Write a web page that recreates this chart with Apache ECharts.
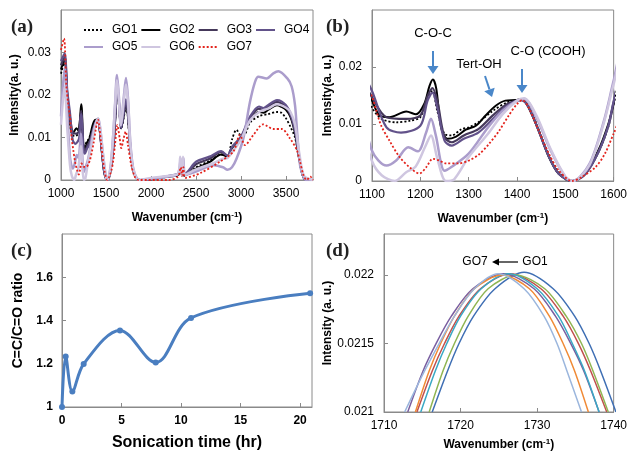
<!DOCTYPE html>
<html><head><meta charset="utf-8">
<script src="https://cdn.jsdelivr.net/npm/echarts@6/dist/echarts.min.js"></script>
<style>html,body{margin:0;padding:0;background:#fff}#c{width:630px;height:455px}</style>
</head><body><div id="c"></div>
<script>
// ---- FTIR spectra (wavenumber cm-1, intensity a.u.) ----
const go1 = [[1000,0.025],[1040,0.028],[1070,0.02],[1100,0.0129],[1120,0.0109],[1150,0.0103],[1180,0.0106],[1200,0.0112],[1215,0.0147],[1225,0.0158],[1235,0.0123],[1250,0.0083],[1265,0.008],[1285,0.0091],[1300,0.0094],[1320,0.0103],[1350,0.0123],[1380,0.0138],[1410,0.0142],[1425,0.013],[1445,0.009],[1466,0.0045],[1486,0.0015],[1514,0],[1540,0.0012],[1568,0.005],[1589,0.0095],[1600,0.0135],[1625,0.021],[1645,0.017],[1668,0.012],[1700,0.015],[1720,0.0175],[1742,0.015],[1770,0.007],[1800,0.0025],[1840,0.0004],[1880,0],[2000,0.0002],[2200,0.0008],[2300,0.001],[2340,0.002],[2370,0.001],[2500,0.003],[2650,0.0045],[2780,0.006],[2850,0.0055],[2900,0.0095],[2950,0.0118],[3000,0.0105],[3050,0.011],[3100,0.0135],[3200,0.015],[3300,0.0155],[3400,0.016],[3450,0.0158],[3500,0.0145],[3550,0.0125],[3600,0.01],[3640,0.0055],[3680,0.0015],[3720,0],[3800,0]];
const go2 = [[1000,0.026],[1040,0.0285],[1070,0.02],[1100,0.0141],[1116,0.0115],[1136,0.0112],[1171,0.0122],[1191,0.0117],[1208,0.0135],[1219,0.0167],[1226,0.0178],[1233,0.0162],[1243,0.0094],[1256,0.0074],[1274,0.0078],[1294,0.009],[1315,0.0097],[1335,0.0115],[1356,0.0132],[1376,0.0141],[1397,0.0142],[1411,0.0144],[1424,0.0129],[1445,0.0088],[1466,0.0042],[1486,0.0013],[1514,0],[1541,0.0013],[1568,0.0053],[1589,0.01],[1600,0.0135],[1625,0.0215],[1645,0.0175],[1668,0.0122],[1700,0.0155],[1720,0.018],[1742,0.0155],[1770,0.0075],[1800,0.0025],[1840,0.0004],[1880,0],[2000,0.0002],[2200,0.0008],[2300,0.0012],[2340,0.002],[2370,0.0012],[2500,0.0027],[2650,0.0042],[2780,0.006],[2850,0.0055],[2900,0.0075],[3000,0.0098],[3100,0.014],[3200,0.016],[3250,0.0158],[3300,0.0165],[3400,0.0176],[3450,0.0172],[3500,0.0165],[3550,0.0148],[3600,0.011],[3640,0.006],[3680,0.0015],[3720,0],[3800,0]];
const go3 = [[1000,0.027],[1040,0.029],[1070,0.02],[1100,0.0147],[1130,0.0112],[1170,0.0109],[1200,0.0115],[1215,0.0149],[1225,0.0163],[1235,0.0141],[1250,0.0077],[1265,0.0068],[1290,0.008],[1320,0.0091],[1350,0.0115],[1380,0.0135],[1410,0.0142],[1425,0.0128],[1445,0.0088],[1466,0.0043],[1486,0.0013],[1514,0],[1541,0.0012],[1568,0.005],[1589,0.0097],[1600,0.0138],[1625,0.022],[1645,0.018],[1668,0.0122],[1700,0.016],[1720,0.0185],[1742,0.016],[1770,0.0078],[1800,0.0025],[1840,0.0004],[1880,0],[2000,0.0002],[2200,0.0009],[2300,0.0013],[2340,0.0022],[2370,0.0013],[2500,0.0037],[2650,0.005],[2780,0.0066],[2850,0.0057],[2900,0.0077],[3000,0.01],[3100,0.0145],[3200,0.0168],[3250,0.0165],[3300,0.0172],[3400,0.0184],[3450,0.018],[3500,0.0172],[3550,0.0152],[3600,0.0115],[3640,0.0062],[3680,0.0016],[3720,0],[3800,0]];
const go4 = [[1000,0.028],[1040,0.0298],[1070,0.021],[1100,0.0158],[1130,0.0094],[1160,0.0085],[1200,0.0097],[1215,0.0141],[1225,0.0155],[1235,0.0129],[1250,0.0071],[1265,0.0062],[1290,0.0074],[1320,0.0085],[1350,0.0109],[1380,0.0132],[1410,0.0142],[1425,0.0128],[1445,0.0088],[1466,0.0043],[1486,0.0013],[1514,0],[1541,0.0012],[1568,0.005],[1589,0.0097],[1600,0.014],[1625,0.0222],[1645,0.018],[1668,0.0122],[1700,0.0165],[1720,0.019],[1742,0.0165],[1770,0.008],[1800,0.0025],[1840,0.0004],[1880,0],[2000,0.0002],[2200,0.001],[2300,0.0014],[2340,0.0022],[2370,0.0014],[2500,0.0043],[2650,0.0055],[2780,0.0068],[2850,0.0057],[2900,0.0078],[3000,0.0102],[3100,0.0149],[3200,0.0173],[3250,0.0169],[3300,0.0176],[3400,0.0188],[3450,0.0185],[3500,0.0176],[3550,0.0157],[3600,0.0118],[3640,0.0063],[3680,0.0016],[3720,0],[3800,0]];
const go5 = [[1000,0.015],[1040,0.0265],[1070,0.016],[1100,0.0053],[1130,0.0027],[1150,0.0036],[1175,0.0059],[1195,0.0052],[1212,0.0085],[1222,0.0109],[1232,0.008],[1250,0.0018],[1265,0.0025],[1300,0.0048],[1340,0.0094],[1370,0.0123],[1400,0.0141],[1415,0.0144],[1440,0.0112],[1470,0.0053],[1500,0.0007],[1515,0],[1550,0.003],[1580,0.0106],[1600,0.0176],[1622,0.0247],[1642,0.02],[1665,0.013],[1700,0.02],[1722,0.024],[1745,0.019],[1770,0.009],[1800,0.003],[1840,0.0005],[1880,0],[2000,0.0003],[2200,0.0008],[2300,0.0015],[2330,0.005],[2345,0.001],[2360,0.0052],[2380,0.0012],[2500,0.002],[2700,0.0035],[2800,0.003],[2850,0.0024],[2900,0.003],[2950,0.005],[3026,0.0098],[3100,0.0184],[3156,0.0231],[3193,0.0243],[3285,0.0239],[3359,0.0251],[3415,0.0256],[3515,0.0239],[3563,0.022],[3600,0.0176],[3626,0.0106],[3656,0.0035],[3693,0.0008],[3720,0],[3800,0]];
const go6 = [[1000,0.013],[1040,0.022],[1070,0.012],[1100,0.0035],[1120,0.001],[1147,0],[1170,0.0015],[1190,0.0025],[1210,0.006],[1222,0.008],[1235,0.004],[1253,0],[1270,0.0003],[1300,0.0042],[1340,0.0083],[1370,0.0117],[1400,0.0141],[1415,0.0145],[1440,0.0115],[1470,0.0055],[1500,0.0008],[1515,0],[1550,0.0028],[1580,0.0103],[1600,0.017],[1622,0.0235],[1642,0.019],[1665,0.0128],[1700,0.019],[1722,0.0225],[1745,0.018],[1770,0.0085],[1800,0.0028],[1840,0.0004],[1880,0],[2000,0.0005],[2200,0.001],[2300,0.0015],[2325,0.0055],[2340,0.001],[2355,0.0055],[2375,0.0012],[2500,0.0025],[2700,0.004],[2800,0.005],[2850,0.0052],[2900,0.0065],[3000,0.0095],[3100,0.014],[3200,0.016],[3300,0.0168],[3400,0.0178],[3500,0.017],[3550,0.016],[3600,0.013],[3650,0.006],[3700,0.001],[3800,0]];
const go7 = [[1000,0.0306],[1033,0.0333],[1060,0.022],[1080,0.018],[1100,0.0148],[1109,0.0123],[1119,0.0097],[1136,0.0071],[1157,0.0042],[1178,0.0024],[1198,0.0013],[1212,0.0024],[1226,0.0039],[1239,0.0036],[1253,0.0031],[1280,0.0031],[1301,0.0036],[1322,0.0047],[1342,0.0065],[1363,0.0088],[1383,0.0115],[1400,0.0135],[1411,0.0142],[1424,0.0129],[1445,0.0088],[1466,0.0048],[1486,0.0019],[1514,0],[1534,0.0007],[1562,0.0024],[1582,0.0048],[1600,0.0083],[1626,0.0129],[1652,0.0098],[1670,0.0075],[1696,0.0098],[1719,0.0114],[1744,0.0082],[1781,0.0035],[1819,0.0008],[1860,0],[2200,0],[2300,0.0008],[2330,0.003],[2345,0.001],[2360,0.003],[2380,0.0005],[2544,0.0016],[2767,0.0043],[2915,0.0067],[2989,0.0106],[3044,0.0082],[3137,0.0106],[3248,0.0131],[3359,0.012],[3452,0.012],[3544,0.0098],[3619,0.0071],[3656,0.0043],[3693,0.0012],[3730,0],[3770,0.0008],[3800,0]];
const spectraNames = ['GO1','GO2','GO3','GO4','GO5','GO6','GO7'];

// ---- (c) C=C/C=O ratio vs sonication time ----
const sonicationTime = [0, 0.31, 0.87, 1.82, 4.87, 7.87, 10.84, 20.84];
const ccRatio = [1.0, 1.234, 1.072, 1.199, 1.354, 1.206, 1.412, 1.526];

// ---- (d) C=O peak region (wavenumber, intensity) ----
const peakGO1 = [[1716.3,0.021],[1718.3,0.0213],[1719.8,0.0215],[1721.7,0.0217],[1724.5,0.0219],[1728.3,0.02202],[1732.1,0.0219],[1734.9,0.0217],[1736.8,0.0215],[1738.3,0.0213],[1740.3,0.021]];
const peakGO2 = [[1714.3,0.021],[1716.3,0.0213],[1717.9,0.0215],[1719.8,0.0217],[1722.6,0.0219],[1726.5,0.02201],[1730.5,0.0219],[1733.4,0.0217],[1735.4,0.0215],[1737.0,0.0213],[1739.1,0.021]];
const peakGO3 = [[1715.9,0.021],[1717.7,0.0213],[1719.2,0.0215],[1721.0,0.0217],[1723.6,0.0219],[1727.2,0.022],[1731.0,0.0219],[1733.8,0.0217],[1735.8,0.0215],[1737.3,0.0213],[1739.3,0.021]];
const peakGO4 = [[1713.1,0.021],[1715.1,0.0213],[1716.8,0.0215],[1718.8,0.0217],[1721.6,0.0219],[1725.6,0.02201],[1729.6,0.0219],[1732.4,0.0217],[1734.4,0.0215],[1736.1,0.0213],[1738.1,0.021]];
const peakGO5 = [[1714.8,0.021],[1716.7,0.0213],[1718.2,0.0215],[1720.0,0.0217],[1722.7,0.0219],[1726.3,0.02201],[1730.0,0.0219],[1732.8,0.0217],[1734.6,0.0215],[1736.2,0.0213],[1738.1,0.021]];
const peakGO6 = [[1714.1,0.021],[1715.9,0.0213],[1717.4,0.0215],[1719.2,0.0217],[1721.8,0.0219],[1725.4,0.022],[1729.0,0.0219],[1731.6,0.0217],[1733.4,0.0215],[1734.9,0.0213],[1736.7,0.021]];
const peakGO7 = [[1712.7,0.021],[1715.3,0.0213],[1717.2,0.0215],[1719.2,0.0217],[1721.8,0.0219],[1724.9,0.02201],[1728.3,0.0219],[1730.9,0.0217],[1732.6,0.0215],[1733.9,0.0213],[1735.8,0.021]];

const chart = echarts.init(document.getElementById('c'), null, {renderer: 'canvas'});
const FONT = 'Arial, "Liberation Sans", sans-serif';
const SERIF = '"Times New Roman", "Liberation Serif", serif';
const axisCol = '#8a8a8a';
const specStyles = [
  {color:'#000000', type:[2,2], width:1.8},
  {color:'#000000', type:'solid', width:2},
  {color:'#45385a', type:'solid', width:2.2},
  {color:'#62528a', type:'solid', width:2.2},
  {color:'#ab9dcc', type:'solid', width:2.5},
  {color:'#cfc6e0', type:'solid', width:2.5},
  {color:'#e3231c', type:[2,2], width:1.8}
];
const specData = [go1, go2, go3, go4, go5, go6, go7];
const peakData = [peakGO1, peakGO2, peakGO3, peakGO4, peakGO5, peakGO6, peakGO7];
const peakColors = ['#3f6fb4','#c0504d','#8fb553','#7a5fa0','#3aa8c4','#f08a36','#9bb6dd'];
const plain = function(v){ return String(v); };

function xAx(gi, min, max, interval, name, opts) {
  return Object.assign({
    type:'value', gridIndex:gi, min:min, max:max, interval:interval,
    axisLine:{show:true, lineStyle:{color:axisCol, width:1}},
    axisTick:{show:true, inside:true, length:4, lineStyle:{color:axisCol}},
    splitLine:{show:false},
    axisLabel:{color:'#000', fontFamily:FONT, fontSize:12, margin:8, showMaxLabel:true, formatter:plain},
    name:name, nameLocation:'middle', nameGap:31,
    nameTextStyle:{color:'#000', fontFamily:FONT, fontSize:12, fontWeight:'bold',
      rich:{sup:{fontSize:8, fontWeight:'bold', fontFamily:FONT, verticalAlign:'top', padding:[0,0,5,0]}}}
  }, opts || {});
}
function yAx(gi, min, max, interval, name, opts) {
  return Object.assign({
    type:'value', gridIndex:gi, min:min, max:max, interval:interval,
    axisLine:{show:true, lineStyle:{color:axisCol, width:1}},
    axisTick:{show:true, inside:true, length:4, lineStyle:{color:axisCol}},
    splitLine:{show:false},
    axisLabel:{color:'#000', fontFamily:FONT, fontSize:12, margin:10, showMaxLabel:false, formatter:plain},
    name:name, nameLocation:'middle', nameGap:38,
    nameTextStyle:{color:'#000', fontFamily:FONT, fontSize:12, fontWeight:'bold'}
  }, opts || {});
}

const xAxes = [
  xAx(0, 1000, 3800, 500, 'Wavenumber (cm{sup|-1})', {axisLabel:{color:'#000', fontFamily:FONT, fontSize:12, margin:8, showMaxLabel:false, formatter:plain}}),
  xAx(1, 1100, 1600, 100, 'Wavenumber (cm{sup|-1})'),
  xAx(2, 0, 21, 5, 'Sonication time (hr)', {
    axisLabel:{color:'#000', fontFamily:FONT, fontSize:12, fontWeight:'bold', margin:8, showMaxLabel:false, formatter:plain},
    nameGap:28, nameTextStyle:{color:'#000', fontFamily:FONT, fontSize:16, fontWeight:'bold'}}),
  xAx(3, 1710, 1740, 10, 'Wavenumber (cm{sup|-1})', {nameGap:26})
];
const yAxes = [
  yAx(0, 0, 0.04, 0.01, 'Intensity(a. u.)', {nameGap:40}),
  yAx(1, 0, 0.03, 0.01, 'Intensity(a. u.)', {nameGap:38}),
  yAx(2, 1, 1.8, 0.2, 'C=C/C=O ratio', {
    axisLabel:{color:'#000', fontFamily:FONT, fontSize:12, fontWeight:'bold', margin:9, showMaxLabel:false,
      formatter:function(v){return String(+v.toFixed(1));}},
    nameGap:37, nameTextStyle:{color:'#000', fontFamily:FONT, fontSize:14, fontWeight:'bold'}}),
  yAx(3, 0.021, 0.0223, 0.0005, 'Intensity (a. u.)', {
    axisLabel:{color:'#000', fontFamily:FONT, fontSize:12, margin:10, showMaxLabel:false,
      formatter:function(v){return String(+v.toFixed(4));}},
    nameGap:44})
];

const series = [];
for (let g = 0; g < 2; g++) {
  specData.forEach(function(d, i) {
    series.push({
      type:'line', name:spectraNames[i], xAxisIndex:g, yAxisIndex:g, data:d,
      symbol:'none', showSymbol:false, smooth:0.3, clip:true,
      lineStyle:{color:specStyles[i].color, type:specStyles[i].type, width:specStyles[i].width},
      itemStyle:{color:specStyles[i].color}, z: 2 + i
    });
  });
}
series.push({
  type:'line', name:'ratio', xAxisIndex:2, yAxisIndex:2,
  data: sonicationTime.map(function(t, i){ return [t, ccRatio[i]]; }),
  smooth:0.35, symbol:'circle', symbolSize:6,
  lineStyle:{color:'#4a7ec0', width:3}, itemStyle:{color:'#4a7ec0'}
});
peakData.forEach(function(d, i) {
  series.push({
    type:'line', name:'peak' + (i+1), xAxisIndex:3, yAxisIndex:3, data:d,
    symbol:'none', smooth:0.3, clip:true,
    lineStyle:{color:peakColors[i], width:1.5}, itemStyle:{color:peakColors[i]}
  });
});

function arrow(x1, y1, x2, y2, color, w, head, hw) {
  const ang = Math.atan2(y2 - y1, x2 - x1);
  const bx = x2 - head * Math.cos(ang), by = y2 - head * Math.sin(ang);
  const px = -Math.sin(ang) * hw, py = Math.cos(ang) * hw;
  return [
    {type:'line', shape:{x1:x1, y1:y1, x2:bx, y2:by}, style:{stroke:color, lineWidth:w}},
    {type:'polygon', shape:{points:[[x2,y2],[bx+px,by+py],[bx-px,by-py]]}, style:{fill:color}}
  ];
}
const blue = '#4a87c9';
const graphics = [
  {type:'text', left:11, top:18, style:{text:'(a)', font:'bold 19px ' + SERIF, fill:'#222'}},
  {type:'text', left:326, top:18, style:{text:'(b)', font:'bold 19px ' + SERIF, fill:'#222'}},
  {type:'text', left:11, top:242, style:{text:'(c)', font:'bold 19px ' + SERIF, fill:'#222'}},
  {type:'text', left:326, top:242, style:{text:'(d)', font:'bold 19px ' + SERIF, fill:'#222'}},
  {type:'text', x:433, y:33, style:{text:'C-O-C', font:'13px ' + FONT, fill:'#000', align:'center', verticalAlign:'middle'}},
  {type:'text', x:479, y:64, style:{text:'Tert-OH', font:'13px ' + FONT, fill:'#000', align:'center', verticalAlign:'middle'}},
  {type:'text', x:548, y:51, style:{text:'C-O (COOH)', font:'13px ' + FONT, fill:'#000', align:'center', verticalAlign:'middle'}},
  {type:'text', x:475, y:262, style:{text:'GO7', font:'12px ' + FONT, fill:'#000', align:'center', verticalAlign:'middle'}},
  {type:'text', x:535, y:262, style:{text:'GO1', font:'12px ' + FONT, fill:'#000', align:'center', verticalAlign:'middle'}}
].concat(
  arrow(433, 51, 433, 74, blue, 2, 8, 5.5),
  arrow(485, 76, 492, 97, blue, 2, 8, 5.5),
  arrow(522, 69, 522, 93, blue, 2, 8, 5.5),
  arrow(518, 262, 492, 262, '#000', 1.2, 7, 3.5)
);

const legendBase = {left:78, itemWidth:19, itemHeight:10, itemGap:3,
  itemStyle:{opacity:0}, textStyle:{fontSize:12, color:'#000', fontFamily:FONT, padding:[0,0,0,4]}};
chart.setOption({
  animation:false,
  backgroundColor:'#fff',
  textStyle:{fontFamily:FONT},
  grid:[
    {left:61, top:10, width:252, height:170, show:true, borderColor:axisCol, borderWidth:1, backgroundColor:'transparent'},
    {left:372, top:10, width:243, height:171, show:true, borderColor:axisCol, borderWidth:1, backgroundColor:'transparent'},
    {left:62, top:234, width:250, height:173, show:true, borderColor:axisCol, borderWidth:1, backgroundColor:'transparent'},
    {left:384, top:234, width:232, height:178, show:true, borderColor:axisCol, borderWidth:1, backgroundColor:'transparent'}
  ],
  legend:[
    Object.assign({data:['GO1','GO2','GO3','GO4'], top:19}, legendBase),
    Object.assign({data:['GO5','GO6','GO7'], top:36}, legendBase)
  ],
  xAxis:xAxes, yAxis:yAxes, series:series, graphic:graphics
});
</script></body></html>
